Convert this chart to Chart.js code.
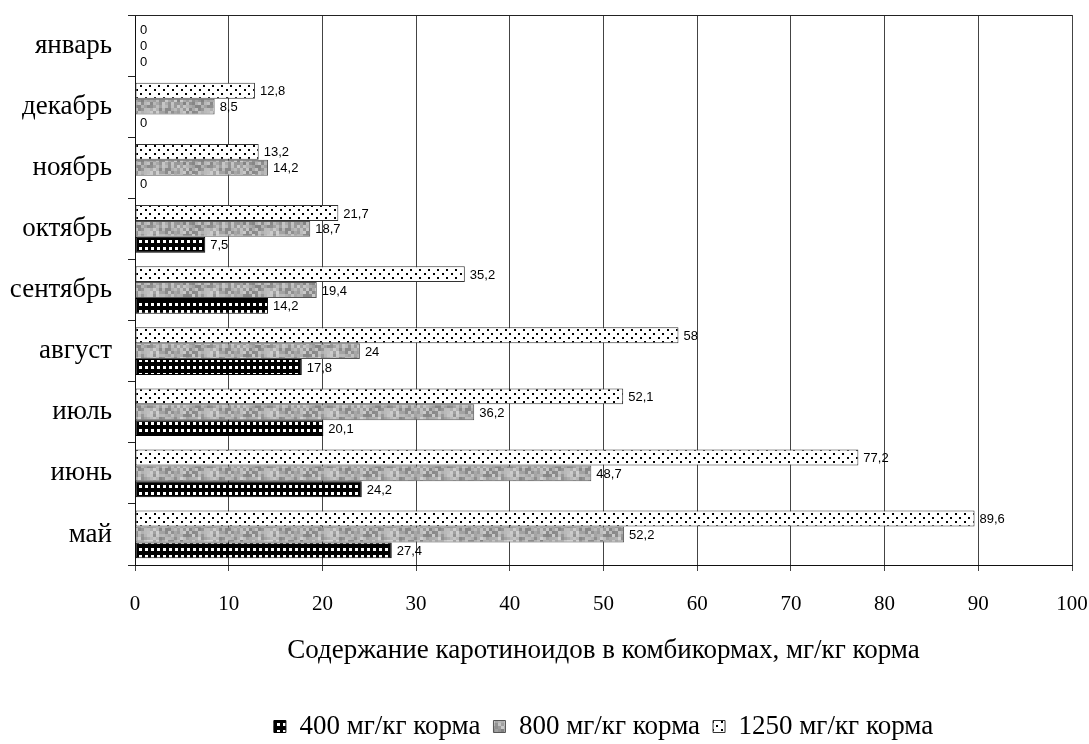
<!DOCTYPE html>
<html>
<head>
<meta charset="utf-8">
<style>
  body { margin: 0; background: #fff; }
  canvas { display: block; }
</style>
<script src="https://cdn.jsdelivr.net/npm/chart.js@4.4.0/dist/chart.umd.min.js"></script>
</head>
<body>
<canvas id="karotinChart" width="1089" height="744"></canvas>
<script>
const months = ["январь", "декабрь", "ноябрь", "октябрь", "сентябрь", "август", "июль", "июнь", "май"];
const dose400 = [0, 0, 0, 7.5, 14.2, 17.8, 20.1, 24.2, 27.4];
const dose800 = [0, 8.5, 14.2, 18.7, 19.4, 24, 36.2, 48.7, 52.2];
const dose1250 = [0, 12.8, 13.2, 21.7, 35.2, 58, 52.1, 77.2, 89.6];
const xTicks = [0, 10, 20, 30, 40, 50, 60, 70, 80, 90, 100];

const serif = "'Liberation Serif', 'Times New Roman', serif";

// white with black staggered dots
function dotPattern() {
  const c = document.createElement("canvas");
  c.width = 9; c.height = 8;
  const g = c.getContext("2d");
  g.fillStyle = "#fff";
  g.fillRect(0, 0, 9, 8);
  g.fillStyle = "#000";
  g.fillRect(1, 1, 2, 2);
  g.fillRect(5, 5, 2, 2);
  return g.createPattern(c, "repeat");
}

// grey mottled texture (deterministic hash, not data)
function greyPattern() {
  const c = document.createElement("canvas");
  c.width = 60; c.height = 30;
  const g = c.getContext("2d");
  for (let y = 0; y < 30; y += 3) {
    for (let x = 0; x < 60; x += 3) {
      const h = Math.abs(Math.sin(x * 12.9898 + y * 78.233) * 43758.5453) % 1;
      const v = Math.round(130 + h * 80);
      g.fillStyle = "rgb(" + v + "," + v + "," + v + ")";
      g.fillRect(x, y, 3, 3);
    }
  }
  return g.createPattern(c, "repeat");
}

// black with rows of small white squares
function checkPattern() {
  const c = document.createElement("canvas");
  c.width = 6; c.height = 7;
  const g = c.getContext("2d");
  g.fillStyle = "#000";
  g.fillRect(0, 0, 6, 7);
  g.fillStyle = "#fff";
  g.fillRect(1, 2, 3, 3);
  return g.createPattern(c, "repeat");
}

function fmt(v) {
  return String(v).replace(".", ",");
}

const valueLabels = {
  id: "valueLabels",
  afterDatasetsDraw(chart) {
    const ctx = chart.ctx;
    ctx.save();
    ctx.font = "13px 'Liberation Sans', Arial, sans-serif";
    ctx.fillStyle = "#000";
    ctx.textBaseline = "middle";
    ctx.textAlign = "left";
    chart.data.datasets.forEach((ds, i) => {
      chart.getDatasetMeta(i).data.forEach((bar, j) => {
        ctx.fillText(fmt(ds.data[j]), bar.x + 5, bar.y + 1);
      });
    });
    ctx.restore();
  }
};

const topLine = {
  id: "topLine",
  afterDraw(chart) {
    const a = chart.chartArea;
    const ctx = chart.ctx;
    ctx.save();
    ctx.strokeStyle = "#222";
    ctx.lineWidth = 1;
    ctx.beginPath();
    ctx.moveTo(a.left - 7, a.top + 0.5);
    ctx.lineTo(a.right, a.top + 0.5);
    ctx.stroke();
    ctx.restore();
  }
};

const ctx = document.getElementById("karotinChart").getContext("2d");
const karotinChart = new Chart(ctx, {
  type: "bar",
  data: {
    labels: months,
    datasets: [
      {
        label: "1250 мг/кг корма",
        data: dose1250,
        backgroundColor: dotPattern(),
        borderColor: "#333",
        borderWidth: 1,
        borderSkipped: false,
      },
      {
        label: "800 мг/кг корма",
        data: dose800,
        backgroundColor: greyPattern(),
        borderColor: "#555",
        borderWidth: 1,
        borderSkipped: false,
      },
      {
        label: "400 мг/кг корма",
        data: dose400,
        backgroundColor: checkPattern(),
        borderColor: "#000",
        borderWidth: 1,
        borderSkipped: false,
      },
    ],
  },
  options: {
    indexAxis: "y",
    responsive: false,
    animation: false,
    layout: { padding: { top: 15, right: 17, left: 0, bottom: -6 } },
    datasets: { bar: { categoryPercentage: 0.78, barPercentage: 1 } },
    scales: {
      x: {
        min: 0,
        max: 100,
        afterBuildTicks(scale) {
          scale.ticks = xTicks.map((v) => ({ value: v }));
        },
        grid: { color: "#444", tickLength: 6, drawTicks: true },
        border: { color: "#111", width: 1 },
        ticks: { color: "#000", font: { family: serif, size: 21 }, padding: 21 },
        title: {
          display: true,
          text: "Содержание каротиноидов в комбикормах, мг/кг корма",
          color: "#000",
          font: { family: serif, size: 27 },
          padding: { top: 20, bottom: 33 },
        },
        afterFit(scale) {
          scale.height = 135;
          scale.paddingLeft = 0;
          scale.paddingRight = 0;
        },
      },
      y: {
        grid: { drawOnChartArea: false, tickLength: 7, color: "#222", offset: true },
        border: { color: "#111", width: 1 },
        ticks: { color: "#000", font: { family: serif, size: 27 }, padding: 16 },
        afterFit(scale) {
          scale.width = 135;
          scale.paddingTop = 0;
          scale.paddingBottom = 0;
        },
      },
    },
    plugins: {
      legend: {
        position: "bottom",
        fullSize: false,
        reverse: true,
        labels: {
          color: "#000",
          font: { family: serif, size: 27 },
          boxWidth: 12,
          boxHeight: 12,
          padding: 13,
        },
      },
      tooltip: { enabled: false },
    },
  },
  plugins: [valueLabels, topLine],
});
</script>
</body>
</html>
